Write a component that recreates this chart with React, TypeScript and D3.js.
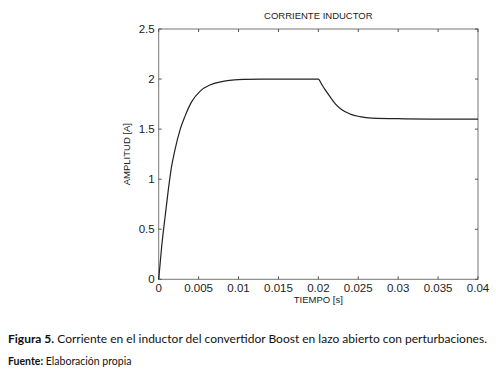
import React, { useEffect, useRef } from 'react';
import * as d3 from 'd3';

// corriente del inductor (tiempo [s], amplitud [A])
const tiempo = [
  0, 0.00037, 0.0008, 0.0012, 0.0016, 0.002, 0.0027, 0.0033, 0.0041, 0.0052, 0.0064, 0.0079, 0.0095, 0.0108,
  0.013, 0.016, 0.02, 0.0204, 0.0208, 0.0215, 0.0221, 0.0229, 0.024, 0.0252, 0.0267, 0.0308, 0.035, 0.04,
];
const amplitud = [
  0, 0.325, 0.625, 0.89, 1.12, 1.28, 1.5, 1.63, 1.77, 1.88, 1.94, 1.975, 1.992, 1.997,
  2.0, 2.0, 2.0, 1.95, 1.9, 1.82, 1.755, 1.695, 1.65, 1.625, 1.61, 1.603, 1.6, 1.6,
];
const xTicks = [0, 0.005, 0.01, 0.015, 0.02, 0.025, 0.03, 0.035, 0.04];
const yTicks = [0, 0.5, 1, 1.5, 2, 2.5];

const App: React.FC = () => {
  const ref = useRef<SVGSVGElement>(null);

  useEffect(() => {
    if (!ref.current) return;
    const svg = d3.select(ref.current);
    svg.selectAll('*').remove();

    const left = 158.7, right = 478, top = 29, bottom = 279.3;
    const x = d3.scaleLinear().domain([0, 0.04]).range([left, right]);
    const y = d3.scaleLinear().domain([0, 2.5]).range([bottom, top]);
    const font = 'Liberation Sans, Arial, sans-serif';

    svg.append('rect')
      .attr('x', left).attr('y', top)
      .attr('width', right - left).attr('height', bottom - top)
      .attr('fill', 'white').attr('stroke', '#777').attr('stroke-width', 1);

    const tl = 3;
    xTicks.forEach(t => {
      svg.append('line').attr('x1', x(t)).attr('x2', x(t)).attr('y1', bottom).attr('y2', bottom - tl).attr('stroke', '#555');
      svg.append('line').attr('x1', x(t)).attr('x2', x(t)).attr('y1', top).attr('y2', top + tl).attr('stroke', '#555');
      svg.append('text').attr('x', x(t)).attr('y', bottom + 13)
        .attr('text-anchor', 'middle').attr('font-family', font).attr('font-size', 11.5).attr('fill', '#222')
        .text(String(t));
    });
    yTicks.forEach(v => {
      svg.append('line').attr('x1', left).attr('x2', left + tl).attr('y1', y(v)).attr('y2', y(v)).attr('stroke', '#555');
      svg.append('line').attr('x1', right).attr('x2', right - tl).attr('y1', y(v)).attr('y2', y(v)).attr('stroke', '#555');
      svg.append('text').attr('x', left - 4).attr('y', y(v) + 4)
        .attr('text-anchor', 'end').attr('font-family', font).attr('font-size', 11.5).attr('fill', '#222')
        .text(String(v));
    });

    const line = d3.line<number>()
      .x((_, i) => x(tiempo[i]))
      .y(d => y(d))
      .curve(d3.curveMonotoneX);

    svg.append('path')
      .datum(amplitud)
      .attr('d', line)
      .attr('fill', 'none')
      .attr('stroke', '#222')
      .attr('stroke-width', 1.2);

    svg.append('text').attr('x', (left + right) / 2).attr('y', 19)
      .attr('text-anchor', 'middle').attr('font-family', font).attr('font-size', 9.5).attr('fill', '#222')
      .text('CORRIENTE INDUCTOR');
    svg.append('text').attr('x', (left + right) / 2).attr('y', 303)
      .attr('text-anchor', 'middle').attr('font-family', font).attr('font-size', 9.5).attr('fill', '#222')
      .text('TIEMPO [s]');
    svg.append('text')
      .attr('transform', `translate(${130},${(top + bottom) / 2}) rotate(-90)`)
      .attr('text-anchor', 'middle').attr('font-family', font).attr('font-size', 9.5).attr('fill', '#222')
      .text('AMPLITUD [A]');

    const capFont = 'Lato, Open Sans, sans-serif';
    const cap = svg.append('text').attr('x', 8).attr('y', 343)
      .attr('font-family', capFont).attr('font-size', 11.5).attr('fill', '#111')
      .attr('textLength', 479).attr('lengthAdjust', 'spacingAndGlyphs');
    cap.append('tspan').attr('font-weight', 'bold').text('Figura 5.');
    cap.append('tspan').text(' Corriente en el inductor del convertidor Boost en lazo abierto con perturbaciones.');

    const src = svg.append('text').attr('x', 8).attr('y', 365)
      .attr('font-family', capFont).attr('font-size', 10.5).attr('fill', '#111');
    src.append('tspan').attr('font-weight', 'bold').text('Fuente:');
    src.append('tspan').text(' Elaboración propia');
  }, []);

  return (
    <svg ref={ref} width={496} height={386}
      style={{ position: 'absolute', left: 0, top: 0, background: 'white' }} />
  );
};

export default App;
